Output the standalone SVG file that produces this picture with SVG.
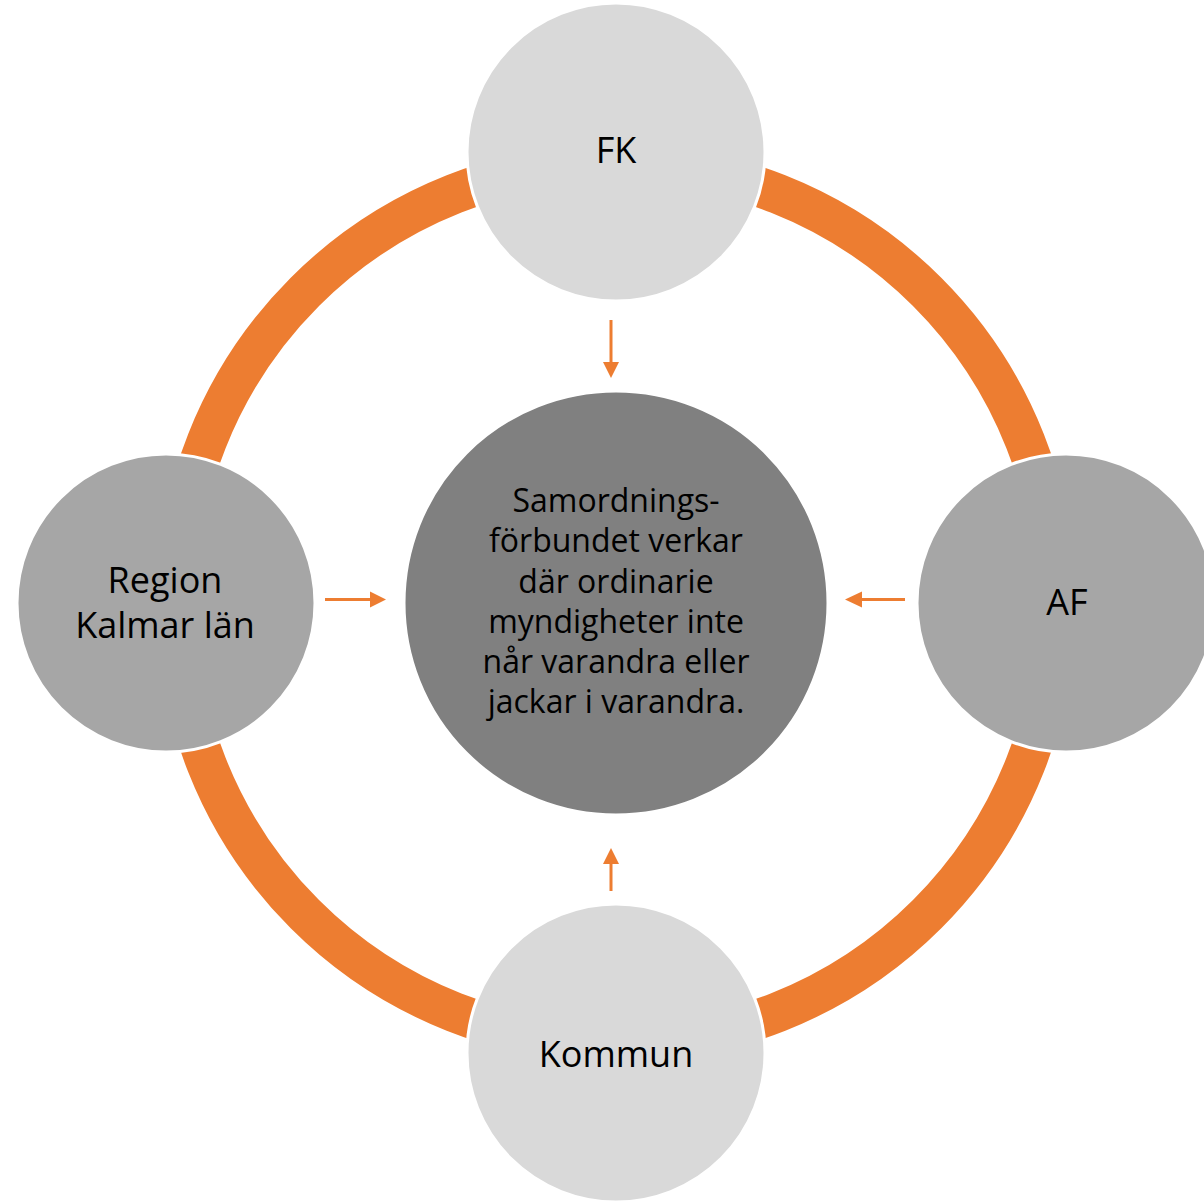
<svg xmlns="http://www.w3.org/2000/svg" width="1204" height="1201" viewBox="0 0 1204 1201">
<style>
.ring{fill:none;stroke:#ED7D31;stroke-width:40}
.sat{stroke:#FFFFFF;stroke-width:3}
.light{fill:#D9D9D9}
.mid{fill:#A6A6A6}
.center{fill:#808080;stroke:#FFFFFF;stroke-width:3}
.lbl{font-family:"Open Sans","Noto Sans",sans-serif;font-size:36px;fill:#000;text-anchor:middle}
.ctext{font-family:"Open Sans","Noto Sans",sans-serif;font-size:32px;fill:#000;text-anchor:middle}
.conn{stroke:#ED7D31;stroke-width:3;fill:none}
.head{fill:#ED7D31}
</style>
<rect width="1204" height="1201" fill="#FFFFFF"/>
<circle class="ring" cx="616" cy="603" r="440"/>
<g id="center-node">
<circle class="center" cx="616" cy="603" r="212"/>
<text class="ctext"><tspan x="616" y="512">Samordnings-</tspan><tspan x="616" y="552">förbundet verkar</tspan><tspan x="616" y="592.5">där ordinarie</tspan><tspan x="616" y="633">myndigheter inte</tspan><tspan x="616" y="673">når varandra eller</tspan><tspan x="616" y="713">jackar i varandra.</tspan></text>
</g>
<g id="node-fk">
<circle class="sat light" cx="616" cy="152" r="149"/>
<text class="lbl" x="616" y="163">FK</text>
</g>
<g id="node-af">
<circle class="sat mid" cx="1066" cy="603" r="149"/>
<text class="lbl" x="1067" y="615">AF</text>
</g>
<g id="node-kommun">
<circle class="sat light" cx="616" cy="1053" r="149"/>
<text class="lbl" x="616" y="1067">Kommun</text>
</g>
<g id="node-region">
<circle class="sat mid" cx="166" cy="603" r="149"/>
<text class="lbl"><tspan x="165" y="593">Region</tspan><tspan x="165" y="638">Kalmar län</tspan></text>
</g>
<g id="connectors">
<line class="conn" x1="611" y1="320" x2="611" y2="364"/>
<polygon class="head" points="603,362 619,362 611,378"/>
<line class="conn" x1="325" y1="599.5" x2="372" y2="599.5"/>
<polygon class="head" points="370,591.5 370,607.5 386,599.5"/>
<line class="conn" x1="905" y1="599.5" x2="860" y2="599.5"/>
<polygon class="head" points="862,591.5 862,607.5 845,599.5"/>
<line class="conn" x1="611" y1="891" x2="611" y2="862"/>
<polygon class="head" points="603,864 619,864 611,848"/>
</g>
</svg>
